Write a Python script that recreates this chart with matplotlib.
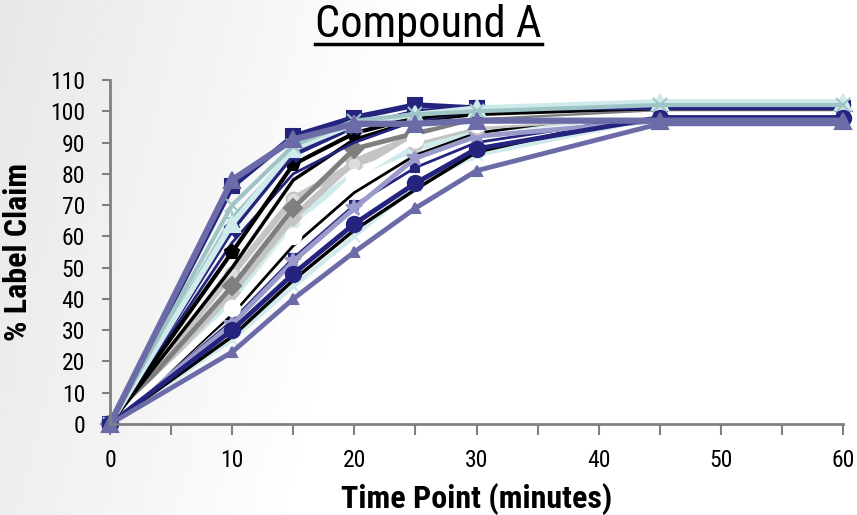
import matplotlib
matplotlib.use("Agg")
import matplotlib.pyplot as plt
import numpy as np
from matplotlib import font_manager as fm
from matplotlib.lines import Line2D
import os

# find a narrow / condensed sans font
cands = []
for f in fm.fontManager.ttflist:
    base = os.path.basename(f.fname).lower()
    if ("narrow" in base or "condensed" in base) and "oblique" not in base and "italic" not in base:
        cands.append((f.name, f.fname, f.weight, f.stretch))
def pick(keys):
    for k in keys:
        for c in cands:
            if k in os.path.basename(c[1]).lower():
                return c
    return None
reg = pick(["liberationsansnarrow-regular", "robotocondensed-regular", "opensans_condensed-regular",
            "opensanscondensed-regular", "dejavusanscondensed.ttf", "condensed-regular", "narrow"])
bold = pick(["liberationsansnarrow-bold.", "robotocondensed-bold.", "opensans_condensed-bold.",
             "opensanscondensed-bold.", "dejavusanscondensed-bold.", "condensed-bold.", "narrow-bold"])
if reg is not None:
    FP = fm.FontProperties(fname=reg[1])
else:
    FP = fm.FontProperties(family="Liberation Sans")
if bold is not None:
    FPB = fm.FontProperties(fname=bold[1])
else:
    FPB = fm.FontProperties(family=FP.get_family(), weight="bold")

time_points = [0, 10, 15, 20, 25, 30, 45, 60]
x_ticks = [0, 10, 20, 30, 40, 50, 60]
y_ticks = list(range(0, 111, 10))

s01 = [0, 76, 92, 98, 102, 101, 101, 101]
s02 = [0, 78, 91, 96, 96, 97, 97, 97]
s03 = [0, 70, 89, 97, 99, 100, 102, 102]
s04 = [0, 62, 86, 95, 100, 101, 101, 101]
s05 = [0, 55, 83, 93, 98, 100, 101, 101]
s06 = [0, 44, 69, 88, 93, 97, 100, 100]
s07 = [0, 48, 72, 83, 90, 95, 99, 99]
s08 = [0, 37, 60, 79, 91, 96, 99, 99]
s09 = [0, 30, 48, 64, 77, 88, 98, 98]
s10 = [0, 23, 40, 55, 69, 81, 96, 96]
s11 = [0, 32, 52, 69, 85, 92, 97, 97]
s12 = [0, 27, 44, 60, 76, 86, 98, 98]
s13 = [0, 28, 46, 62, 75, 87, 100, 100]
s14 = [0, 50, 78, 91, 97, 99, 101, 101]
s15 = [0, 40, 65, 80, 88, 94, 99, 100]
s16 = [0, 42, 66, 84, 92, 96, 100, 100]
s17 = [0, 58, 80, 90, 97, 100, 101, 101]
s18 = [0, 35, 57, 74, 86, 93, 101, 101]
s19 = [0, 66, 87, 95, 98, 99, 102, 102]
s20 = [0, 33, 53, 70, 82, 90, 99, 99]
s21 = [0, 64, 88, 96, 99, 101, 103, 103]

NAVY = "#24247f"
SLATE = "#6b6ba8"
TEAL = "#9ec4c6"
CYAN = "#cfeaea"
LAV = "#9a9acb"
GRAY = "#7f7f7f"
LGRAY = "#c4c4c4"

# (data, color, linewidth, marker, markersize, markerfacecolor)
series = [
    (s01, NAVY, 4.0, "s", 10, NAVY),
    (s12, CYAN, 3.0, "x", 9, CYAN),
    (s15, CYAN, 4.5, "s", 8, CYAN),
    (s19, TEAL, 2.5, "+", 10, TEAL),
    (s20, NAVY, 2.0, "s", 6, NAVY),
    (s13, "black", 2.5, None, 0, "black"),
    (s18, "black", 2.0, None, 0, "black"),
    (s11, LAV, 3.5, "*", 12, LAV),
    (s16, LGRAY, 4.5, "D", 8, LGRAY),
    (s07, LGRAY, 4.5, "o", 10, "#dddddd"),
    (s06, GRAY, 3.5, "D", 9, GRAY),
    (s08, "white", 4.5, "o", 11, "white"),
    (s14, "black", 2.5, None, 0, "black"),
    (s17, NAVY, 2.0, None, 0, NAVY),
    (s05, "black", 3.0, "p", 10, "black"),
    (s04, NAVY, 3.0, "X", 10, NAVY),
    (s21, CYAN, 4.0, "^", 11, CYAN),
    (s03, TEAL, 3.0, "x", 10, TEAL),
    (s09, NAVY, 3.5, "o", 11, NAVY),
    (s10, SLATE, 3.5, "^", 7, SLATE),
    (s02, SLATE, 4.5, "^", 12, SLATE),
]

W, H = 857, 515
fig = plt.figure(figsize=(W / 100, H / 100), dpi=100)

# background gradient
bg = fig.add_axes([0, 0, 1, 1], zorder=-10)
xx = np.linspace(0, 1, 400)
yy = np.linspace(0, 1, 240)
X, Y = np.meshgrid(xx, yy)
val = 0.905 + 0.095 * np.clip((X * 1.0 + (1 - Y) * 0.15) / 0.5, 0, 1)
val = np.clip(val, 0, 1)
bg.imshow(val, cmap="gray", vmin=0, vmax=1, aspect="auto", extent=[0, 1, 0, 1], origin="lower")
bg.set_axis_off()

ax = fig.add_axes([110 / W, 1 - 424 / H, (843 - 110) / W, (424 - 80) / H])
ax.set_facecolor("none")

for data, col, lw, mk, ms, mfc in series:
    ax.plot(time_points, data, color=col, lw=lw, marker=mk, ms=ms,
            mfc=mfc, mec=col, mew=1.5, clip_on=False, solid_joinstyle="miter")

ax.set_xlim(0, 60)
ax.set_ylim(0, 110)
ax.set_xticks(x_ticks)
ax.set_xticks([5, 15, 25, 35, 45, 55], minor=True)
ax.set_yticks(y_ticks)
for sp in ["top", "right"]:
    ax.spines[sp].set_visible(False)
for sp in ["left", "bottom"]:
    ax.spines[sp].set_color("#808080")
    ax.spines[sp].set_linewidth(2)
ax.tick_params(axis="x", which="both", direction="out", length=8, width=1.5,
               color="#808080", pad=10)
ax.tick_params(axis="y", direction="out", length=6, width=1.5,
               color="#808080", pad=12)
for lab in ax.get_xticklabels() + ax.get_yticklabels():
    lab.set_fontproperties(FP)
    lab.set_fontsize(17)

ax.set_xlabel("Time Point (minutes)", fontproperties=FPB, fontsize=23, labelpad=8)
ax.set_ylabel("% Label Claim", fontproperties=FPB, fontsize=23, labelpad=12)

t = fig.text(0.5, 1 - 25 / H, "Compound A", fontproperties=FP, fontsize=32,
             ha="center", va="center")
fig.canvas.draw()
bb = t.get_window_extent()
uy = bb.y0 + 2
fig.add_artist(Line2D([bb.x0 / W, bb.x1 / W], [uy / H, uy / H], color="black", lw=2.5,
                      transform=fig.transFigure))

fig.savefig("out.png", dpi=100)
